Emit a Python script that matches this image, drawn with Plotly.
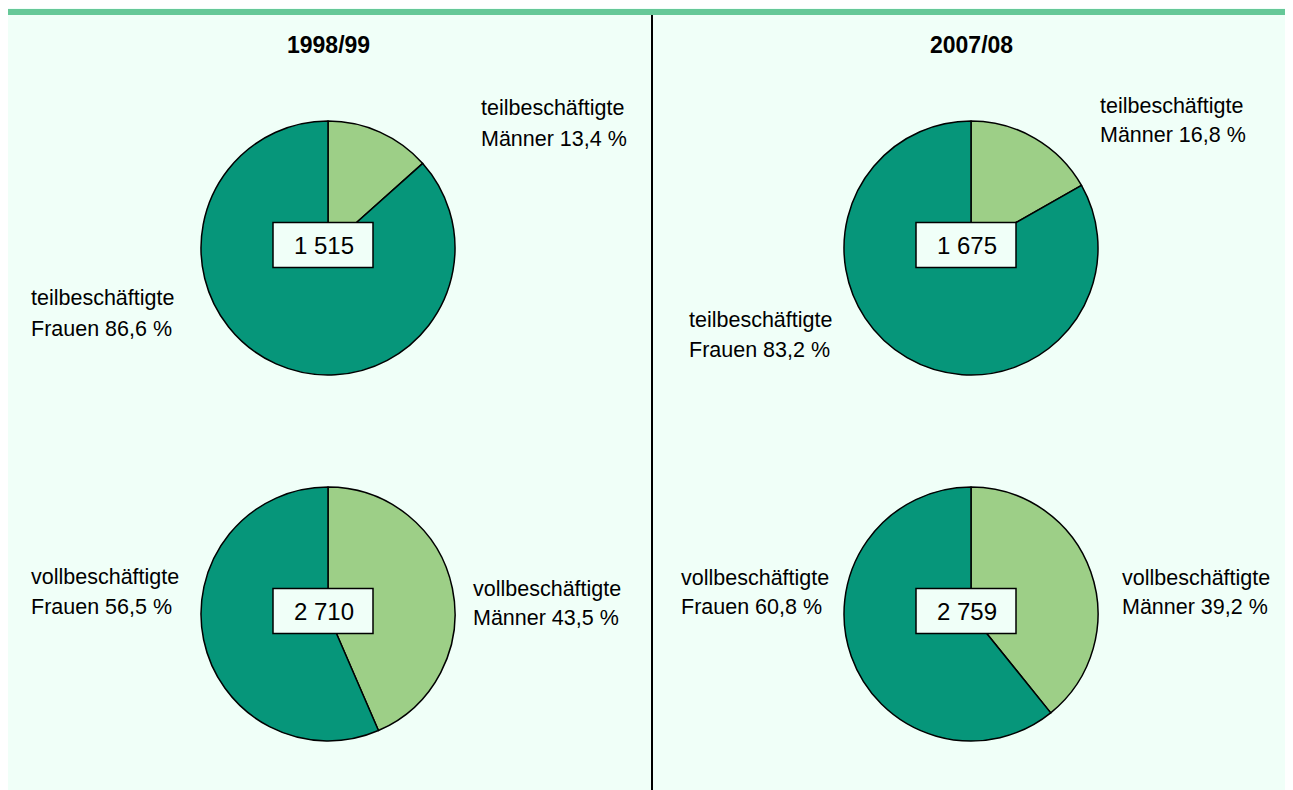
import plotly.graph_objects as go

W, H = 1293, 790
OFF = 8  # page body margin offset

periods = ["1998/99", "2007/08"]
seg_labels = ["Männer", "Frauen"]
teil_shares = [[13.4, 86.6], [16.8, 83.2]]
voll_shares = [[43.5, 56.5], [39.2, 60.8]]
teil_totals = ["1 515", "1 675"]
voll_totals = ["2 710", "2 759"]

DARK = "#06967A"
LIGHT = "#9DCF87"
BG = "#F0FFF8"

def px(x):
    return (x - OFF) / W

def py(y):
    return 1 - (y - OFF) / H

fig = go.Figure()

R = 127
centers_x = [328, 971]
centers_y = [248, 614]

for i in range(2):
    for j, shares in enumerate([teil_shares, voll_shares]):
        cx, cy = centers_x[i], centers_y[j]
        fig.add_trace(go.Pie(
            values=shares[i], labels=seg_labels, sort=False, direction="clockwise",
            rotation=0, textinfo="none", hoverinfo="label+percent",
            marker=dict(colors=[LIGHT, DARK], line=dict(color="black", width=1.5)),
            domain=dict(x=[px(cx - R), px(cx + R)], y=[py(cy + R), py(cy - R)]),
            showlegend=False,
        ))

shapes = [
    dict(type="rect", xref="paper", yref="paper", x0=0, x1=1, y0=0, y1=py(15),
         fillcolor=BG, line=dict(width=0), layer="below"),
    dict(type="rect", xref="paper", yref="paper", x0=px(8), x1=1, y0=py(15), y1=py(9),
         fillcolor="#66C898", line=dict(width=0), layer="below"),
    dict(type="line", xref="paper", yref="paper", x0=px(652), x1=px(652), y0=0, y1=py(15),
         line=dict(color="black", width=2), layer="above"),
]

annotations = []
def txt(x, y, s, size=21.5, anchor="left", bold=False):
    annotations.append(dict(
        x=px(x), y=py(y), xref="paper", yref="paper", text=("<b>%s</b>" % s) if bold else s,
        showarrow=False, xanchor=anchor, yanchor="middle",
        font=dict(family="Liberation Sans, Arial", size=size, color="black"),
    ))

for i, p in enumerate(periods):
    txt(centers_x[i], 45, p, size=23, anchor="center", bold=True)

box_h = 45
for i in range(2):
    for j, totals in enumerate([teil_totals, voll_totals]):
        cx = centers_x[i]
        cy = 245 if j == 0 else 611
        shapes.append(dict(type="rect", xref="paper", yref="paper",
                           x0=px(cx - 55), x1=px(cx + 45), y0=py(cy + box_h / 2), y1=py(cy - box_h / 2),
                           fillcolor=BG, line=dict(color="black", width=1.5), layer="above"))
        txt(cx - 4, cy, totals[i], size=24, anchor="center")

def fmt(v):
    return ("%.1f" % v).replace(".", ",") + " %"

D = 2
txt(481 - D, 108, "teilbeschäftigte")
txt(481 - D, 139, "Männer " + fmt(teil_shares[0][0]))
txt(31 - D, 298, "teilbeschäftigte")
txt(31 - D, 329, "Frauen " + fmt(teil_shares[0][1]))
txt(31 - D, 577, "vollbeschäftigte")
txt(31 - D, 607, "Frauen " + fmt(voll_shares[0][1]))
txt(473 - D, 589, "vollbeschäftigte")
txt(473 - D, 618, "Männer " + fmt(voll_shares[0][0]))

txt(1100 - D, 106, "teilbeschäftigte")
txt(1100 - D, 135, "Männer " + fmt(teil_shares[1][0]))
txt(689 - D, 320, "teilbeschäftigte")
txt(689 - D, 350, "Frauen " + fmt(teil_shares[1][1]))
txt(681 - D, 578, "vollbeschäftigte")
txt(681 - D, 607, "Frauen " + fmt(voll_shares[1][1]))
txt(1122 - D, 578, "vollbeschäftigte")
txt(1122 - D, 607, "Männer " + fmt(voll_shares[1][0]))

fig.update_layout(
    width=W, height=H, margin=dict(l=0, r=0, t=0, b=0),
    paper_bgcolor=BG, plot_bgcolor=BG,
    shapes=shapes, annotations=annotations, showlegend=False,
)

fig.write_html("out.html")
